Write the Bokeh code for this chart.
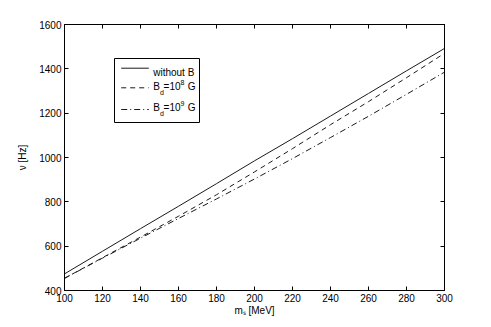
from math import pi
from bokeh.plotting import figure
from bokeh.models import (Range1d, LinearAxis, SingleIntervalTicker, Label,
                          BoxAnnotation, Arrow, CustomJSTickFormatter)
from bokeh.embed import file_html
from bokeh.resources import INLINE

# ---- data ----
ms = [100, 120, 140, 160, 180, 200, 220, 240, 260, 280, 300]
nu_without_B = [475, 577, 679, 780, 882, 985, 1085, 1187, 1289, 1391, 1492]
nu_B1e8 = [455, 548, 641, 735, 832, 935, 1040, 1148, 1252, 1360, 1470]
nu_B1e9 = [455, 546, 636, 725, 813, 903, 995, 1090, 1186, 1285, 1385]

x_ticks_step = 20
y_ticks_step = 200

FONT = "Liberation Sans"
W, H = 483, 325

p = figure(width=W, height=H, output_backend="svg", toolbar_location=None,
           x_range=Range1d(100, 300), y_range=Range1d(400, 1600),
           min_border_left=64, min_border_right=39, min_border_top=24,
           min_border_bottom=35)
p.grid.visible = False
p.outline_line_color = "black"
p.background_fill_color = "white"
p.border_fill_color = "white"

p.xaxis.ticker = SingleIntervalTicker(interval=x_ticks_step, num_minor_ticks=0)
p.yaxis.ticker = SingleIntervalTicker(interval=y_ticks_step, num_minor_ticks=0)

def style_axis(ax):
    ax.major_tick_in = 4
    ax.major_tick_out = 0
    ax.minor_tick_in = 0
    ax.minor_tick_out = 0
    ax.axis_line_color = "black"
    ax.major_tick_line_color = "black"
    ax.major_label_text_font = FONT
    ax.major_label_text_font_size = "10px"
    ax.major_label_text_color = "black"
    ax.major_label_standoff = 3
    ax.axis_label_text_font = FONT
    ax.axis_label_text_font_size = "10px"
    ax.axis_label_text_font_style = "normal"
    ax.axis_label_text_color = "black"

for ax in (p.xaxis[0], p.yaxis[0]):
    style_axis(ax)

p.xaxis.axis_label = "m\u209b [MeV]"
p.xaxis.axis_label_standoff = 0
p.yaxis.axis_label = "\u03bd [Hz]"
p.yaxis.axis_label_standoff = 8

empty = CustomJSTickFormatter(code="return ''")
top = LinearAxis(ticker=SingleIntervalTicker(interval=x_ticks_step, num_minor_ticks=0),
                 formatter=empty)
right = LinearAxis(ticker=SingleIntervalTicker(interval=y_ticks_step, num_minor_ticks=0),
                   formatter=empty)
for ax in (top, right):
    style_axis(ax)
    ax.major_label_standoff = 0
p.add_layout(top, "above")
p.add_layout(right, "right")

# ---- data lines ----
p.line(ms, nu_without_B, line_color="#1a1a1a", line_width=1)
p.line(ms, nu_B1e8, line_color="#1a1a1a", line_width=1, line_dash="5 4")
p.line(ms, nu_B1e9, line_color="#1a1a1a", line_width=1, line_dash="6 3 1 3")

# ---- legend (screen units relative to the plot frame) ----
def lab(x, y, text, size="10px"):
    p.add_layout(Label(x=x, y=y, x_units="screen", y_units="screen", text=text,
                       text_font=FONT, text_font_size=size, text_color="black",
                       text_baseline="alphabetic"))

p.add_layout(BoxAnnotation(left=50, right=135, top=232, bottom=168,
                           left_units="screen", right_units="screen",
                           top_units="screen", bottom_units="screen",
                           fill_color="white", fill_alpha=1,
                           line_color="black", line_width=1, line_alpha=1))

for ys, dash in ((222.3, "solid"), (202.7, "5 4"), (181, "6 3 1 3")):
    p.add_layout(Arrow(end=None, x_start=56.7, y_start=ys, x_end=84.3, y_end=ys,
                       start_units="screen", end_units="screen",
                       line_color="#1a1a1a", line_width=1, line_dash=dash))

tx = 88.7
lab(tx, 217.7, "without B")
for base, sup in ((204.3, "8"), (182.7, "9")):
    lab(tx, base, "B")
    lab(tx + 6.7, base - 5.8, "d", size="7px")
    lab(tx + 10.4, base, "=10")
    lab(tx + 27.4, base + 4, sup, size="7px")
    lab(tx + 34.5, base, "G")

open("out.html", "w").write(file_html(p, INLINE))
